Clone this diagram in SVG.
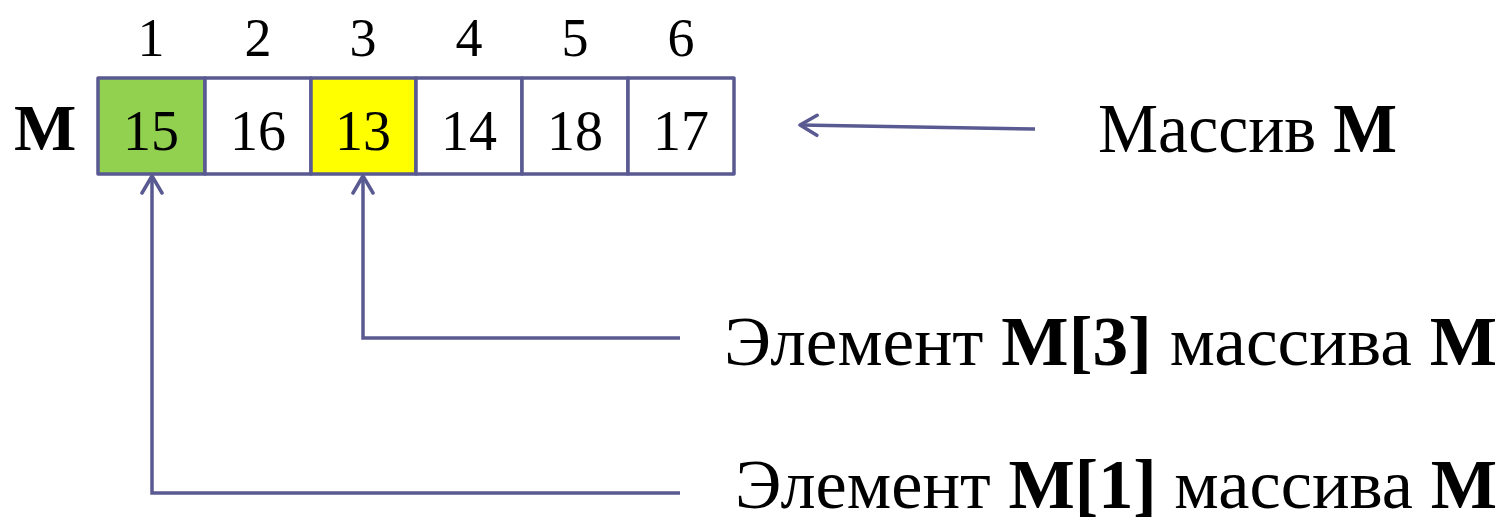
<svg xmlns="http://www.w3.org/2000/svg" width="1506" height="526" viewBox="0 0 1506 526">
<defs>
<style>
.cell{stroke:#5a5a92;stroke-width:3.5;stroke-linejoin:round}
.num{font-family:"Liberation Serif",serif;font-size:56px;text-anchor:middle;fill:#000}
.idx{font-family:"Liberation Serif",serif;font-size:54px;text-anchor:middle;fill:#000}
.lbl{font-family:"Liberation Serif",serif;font-size:70px;fill:#000}
.b{font-weight:bold}
.conn{fill:none;stroke:#5a5a92;stroke-width:3.5;stroke-linejoin:miter}
</style>
<marker id="arr" markerUnits="userSpaceOnUse" markerWidth="22" markerHeight="26" viewBox="0 0 22 26" refX="19" refY="13" orient="auto">
<path d="M2,3 L19,13 L2,23" fill="none" stroke="#5a5a92" stroke-width="3.5" stroke-linecap="round" stroke-linejoin="round"/>
</marker>
</defs>
<rect width="1506" height="526" fill="#fff"/>
<g id="array">
<text class="lbl b" x="14" y="150" style="font-size:66px">М</text>
<g id="cell1"><rect class="cell" x="98" y="78" width="107" height="96" fill="#92d050"/><text class="num" x="151" y="150">15</text><text class="idx" x="151" y="56">1</text></g>
<g id="cell2"><rect class="cell" x="205" y="78" width="106" height="96" fill="#fff"/><text class="num" x="258" y="150">16</text><text class="idx" x="258" y="56">2</text></g>
<g id="cell3"><rect class="cell" x="311" y="78" width="105" height="96" fill="#ffff00"/><text class="num" x="363" y="150">13</text><text class="idx" x="363" y="56">3</text></g>
<g id="cell4"><rect class="cell" x="416" y="78" width="106" height="96" fill="#fff"/><text class="num" x="469" y="150">14</text><text class="idx" x="469" y="56">4</text></g>
<g id="cell5"><rect class="cell" x="522" y="78" width="106" height="96" fill="#fff"/><text class="num" x="575" y="150">18</text><text class="idx" x="575" y="56">5</text></g>
<g id="cell6"><rect class="cell" x="628" y="78" width="106" height="96" fill="#fff"/><text class="num" x="681" y="150">17</text><text class="idx" x="681" y="56">6</text></g>
</g>
<g id="label-array"><text class="lbl" x="1098" y="152" textLength="299" lengthAdjust="spacingAndGlyphs">Массив <tspan class="b">М</tspan></text></g>
<g id="label-m3"><text class="lbl" x="724" y="365" textLength="773" lengthAdjust="spacingAndGlyphs">Элемент <tspan class="b">М[3]</tspan> массива <tspan class="b">М</tspan></text></g>
<g id="label-m1"><text class="lbl" x="735" y="508" textLength="762" lengthAdjust="spacingAndGlyphs">Элемент <tspan class="b">М[1]</tspan> массива <tspan class="b">М</tspan></text></g>
<g id="connectors">
<path class="conn" d="M1035,129 L800,125" marker-end="url(#arr)"/>
<path class="conn" d="M680,338 H363 V176" marker-end="url(#arr)"/>
<path class="conn" d="M680,493 H152 V176" marker-end="url(#arr)"/>
</g>
</svg>
